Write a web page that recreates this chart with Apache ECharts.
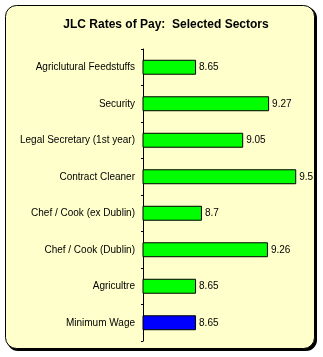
<!DOCTYPE html>
<html>
<head>
<meta charset="utf-8">
<style>html,body{margin:0;padding:0;background:#fff;}#c{width:323px;height:357px;}</style>
<script src="https://cdn.jsdelivr.net/npm/echarts@6/dist/echarts.min.js"></script>
</head>
<body>
<div id="c"></div>
<script>
const titleText = 'JLC Rates of Pay:  Selected Sectors';
const categories = ['Agriclutural Feedstuffs', 'Security', 'Legal Secretary (1st year)', 'Contract Cleaner', 'Chef / Cook (ex Dublin)', 'Chef / Cook (Dublin)', 'Agricultre', 'Minimum Wage'];
const values = [8.65, 9.27, 9.05, 9.5, 8.7, 9.26, 8.65, 8.65];
const barColors = ['#00FF00', '#00FF00', '#00FF00', '#00FF00', '#00FF00', '#00FF00', '#00FF00', '#0000FF'];
const valueLabels = ['8.65', '9.27', '9.05', '9.5', '8.7', '9.26', '8.65', '8.65'];

const chart = echarts.init(document.getElementById('c'), null, {renderer: 'canvas'});
chart.setOption({
  backgroundColor: '#ffffff',
  animation: false,
  graphic: [
    {type: 'rect', z: -10, shape: {x: 7, y: 7, width: 310, height: 344, r: 11}, style: {fill: '#000000'}},
    {type: 'rect', z: -9, shape: {x: 5.5, y: 5.5, width: 309, height: 343, r: 11}, style: {fill: '#FFFFCC', stroke: '#000000', lineWidth: 1}}
  ],
  title: {
    text: titleText, left: 161, top: 14, textAlign: 'center',
    textStyle: {fontFamily: 'Liberation Sans, Arial, sans-serif', fontSize: 12, fontWeight: 'bold', color: '#000'}
  },
  grid: {left: 143, top: 49, width: 165, height: 292, containLabel: false},
  xAxis: {
    type: 'value', min: 8.2, max: 9.6,
    show: false
  },
  yAxis: {
    type: 'category', data: categories, inverse: true,
    axisLine: {show: true, lineStyle: {color: '#000', width: 1}},
    axisTick: {show: true, length: 2, lineStyle: {color: '#000'}},
    axisLabel: {fontFamily: 'Liberation Sans, Arial, sans-serif', fontSize: 10, color: '#000', margin: 8},
    splitLine: {show: false}
  },
  series: [{
    type: 'bar',
    data: values.map((v, i) => ({value: v, itemStyle: {color: barColors[i]}, label: {formatter: valueLabels[i]}})),
    barWidth: '41%',
    itemStyle: {borderColor: '#000', borderWidth: 1},
    label: {show: true, position: 'right', distance: 3, fontFamily: 'Liberation Sans, Arial, sans-serif', fontSize: 10, color: '#000'}
  }]
});
</script>
</body>
</html>
